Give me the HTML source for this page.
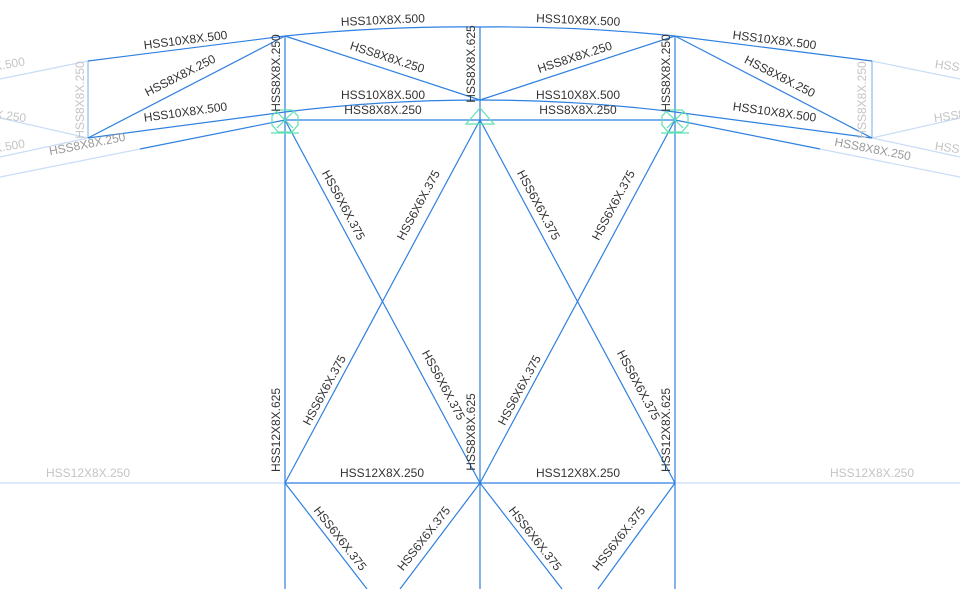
<!DOCTYPE html>
<html><head><meta charset="utf-8"><style>
html,body{margin:0;padding:0;background:#fff;width:960px;height:589px;overflow:hidden}
svg{display:block}
text{font-family:"Liberation Sans",Arial,sans-serif;font-size:12px;fill:#333;text-anchor:middle}
.f{fill:#c4c4c4}
.g{fill:#999}
</style></head><body>
<svg width="960" height="589" viewBox="0 0 960 589">
<g stroke="#c9ddf6" stroke-width="1.2" fill="none">
<line x1="0" y1="79" x2="88" y2="61"/>
<line x1="0" y1="118" x2="88" y2="138"/>
<line x1="0" y1="157" x2="88" y2="138"/>
<line x1="960" y1="79" x2="872" y2="61"/>
<line x1="960" y1="118" x2="872" y2="138"/>
<line x1="960" y1="157" x2="872" y2="138"/>
<line x1="0" y1="483" x2="285" y2="483"/>
<line x1="675" y1="483" x2="960" y2="483"/>
<line x1="0" y1="177" x2="140" y2="149"/>
<line x1="960" y1="177" x2="820" y2="149"/>
</g>
<g stroke="#8fbcf0" stroke-width="1.2" fill="none">
<line x1="88" y1="61" x2="88" y2="138"/>
<line x1="872" y1="61" x2="872" y2="138"/>
</g>
<g stroke="#2f80e0" stroke-width="1.2" fill="none">
<line x1="88" y1="61" x2="285" y2="36"/>
<line x1="88" y1="138" x2="285" y2="36"/>
<line x1="88" y1="138" x2="285" y2="112"/>
<line x1="140" y1="149" x2="285" y2="120"/>
<line x1="872" y1="61" x2="675" y2="36"/>
<line x1="872" y1="138" x2="675" y2="36"/>
<line x1="872" y1="138" x2="675" y2="112"/>
<line x1="820" y1="149" x2="675" y2="120"/>
<path d="M285 36 Q382 26 480 27 Q578 26 675 36"/>
<path d="M285 112 Q382 100 480 100 Q578 100 675 112"/>
<line x1="285" y1="36" x2="480" y2="100"/>
<line x1="675" y1="36" x2="480" y2="100"/>
<line x1="285" y1="120" x2="675" y2="120"/>
<line x1="285" y1="36" x2="285" y2="589"/>
<line x1="480" y1="27" x2="480" y2="589"/>
<line x1="675" y1="36" x2="675" y2="589"/>
<line x1="285" y1="120" x2="480" y2="483"/>
<line x1="480" y1="120" x2="285" y2="483"/>
<line x1="480" y1="120" x2="675" y2="483"/>
<line x1="675" y1="120" x2="480" y2="483"/>
<line x1="285" y1="483" x2="675" y2="483"/>
<line x1="285" y1="483" x2="367" y2="589"/>
<line x1="480" y1="483" x2="400" y2="589"/>
<line x1="480" y1="483" x2="562" y2="589"/>
<line x1="675" y1="483" x2="598" y2="589"/>
</g>
<g stroke="#5ee0b0" stroke-width="1.2" fill="none">
<polygon points="278,110 292,110 298,116 298,125 292,132 278,132 272,125 272,116"/>
<line x1="271" y1="133" x2="299" y2="133"/>
<line x1="277" y1="112" x2="293" y2="128"/><line x1="293" y1="112" x2="277" y2="128"/>
<polygon points="668,110 682,110 688,116 688,125 682,132 668,132 662,125 662,116"/>
<line x1="661" y1="133" x2="689" y2="133"/>
<line x1="667" y1="112" x2="683" y2="128"/><line x1="683" y1="112" x2="667" y2="128"/>
<polygon points="480,108 466,124 494,124"/>
</g>
<text x="186" y="44" transform="rotate(-7.2 186 44)">HSS10X8X.500</text>
<text x="182" y="79" transform="rotate(-27 182 79)">HSS8X8X.250</text>
<text x="186" y="116" transform="rotate(-7.8 186 116)">HSS10X8X.500</text>
<text class="g" x="88" y="148" transform="rotate(-11 88 148)">HSS8X8X.250</text>
<text class="f" x="84" y="100" transform="rotate(-90 84 100)">HSS8X8X.250</text>
<text class="f" x="10" y="68" transform="rotate(-10 10 68)">X.500</text>
<text class="f" x="10" y="120" transform="rotate(8 10 120)">X.250</text>
<text class="f" x="10" y="150" transform="rotate(-10 10 150)">X.500</text>
<text x="280" y="73" transform="rotate(-90 280 73)">HSS8X8X.250</text>
<text x="475" y="64" transform="rotate(-90 475 64)">HSS8X8X.625</text>
<text x="670" y="73" transform="rotate(-90 670 73)">HSS8X8X.250</text>
<text x="383" y="24" transform="rotate(-2.5 383 24)">HSS10X8X.500</text>
<text x="578" y="24" transform="rotate(2.5 578 24)">HSS10X8X.500</text>
<text x="386" y="61" transform="rotate(18 386 61)">HSS8X8X.250</text>
<text x="576" y="61" transform="rotate(-18 576 61)">HSS8X8X.250</text>
<text x="383" y="99">HSS10X8X.500</text>
<text x="383" y="114">HSS8X8X.250</text>
<text x="578" y="99">HSS10X8X.500</text>
<text x="578" y="114">HSS8X8X.250</text>
<text x="774" y="44" transform="rotate(7.2 774 44)">HSS10X8X.500</text>
<text x="778" y="80" transform="rotate(27 778 80)">HSS8X8X.250</text>
<text x="774" y="116" transform="rotate(7.8 774 116)">HSS10X8X.500</text>
<text class="g" x="872" y="153" transform="rotate(11 872 153)">HSS8X8X.250</text>
<text class="f" x="866" y="100" transform="rotate(-90 866 100)">HSS8X8X.250</text>
<text class="f" x="950" y="70" transform="rotate(8 950 70)">HSS1</text>
<text class="f" x="950" y="120" transform="rotate(-8 950 120)">HSS8</text>
<text class="f" x="950" y="152" transform="rotate(8 950 152)">HSS1</text>
<text x="340" y="207" transform="rotate(61.7 340 207)">HSS6X6X.375</text>
<text x="422" y="207" transform="rotate(-61.7 422 207)">HSS6X6X.375</text>
<text x="535" y="207" transform="rotate(61.7 535 207)">HSS6X6X.375</text>
<text x="617" y="207" transform="rotate(-61.7 617 207)">HSS6X6X.375</text>
<text x="328" y="392" transform="rotate(-61.7 328 392)">HSS6X6X.375</text>
<text x="440" y="387" transform="rotate(61.7 440 387)">HSS6X6X.375</text>
<text x="523" y="392" transform="rotate(-61.7 523 392)">HSS6X6X.375</text>
<text x="635" y="387" transform="rotate(61.7 635 387)">HSS6X6X.375</text>
<text x="280" y="430" transform="rotate(-90 280 430)">HSS12X8X.625</text>
<text x="475" y="432" transform="rotate(-90 475 432)">HSS8X8X.625</text>
<text x="670" y="430" transform="rotate(-90 670 430)">HSS12X8X.625</text>
<text class="f" x="88" y="477">HSS12X8X.250</text>
<text x="382" y="477">HSS12X8X.250</text>
<text x="578" y="477">HSS12X8X.250</text>
<text class="f" x="872" y="477">HSS12X8X.250</text>
<text x="337" y="541" transform="rotate(52 337 541)">HSS6X6X.375</text>
<text x="427" y="541" transform="rotate(-52 427 541)">HSS6X6X.375</text>
<text x="532" y="541" transform="rotate(52 532 541)">HSS6X6X.375</text>
<text x="622" y="541" transform="rotate(-52 622 541)">HSS6X6X.375</text>
</svg>
</body></html>
